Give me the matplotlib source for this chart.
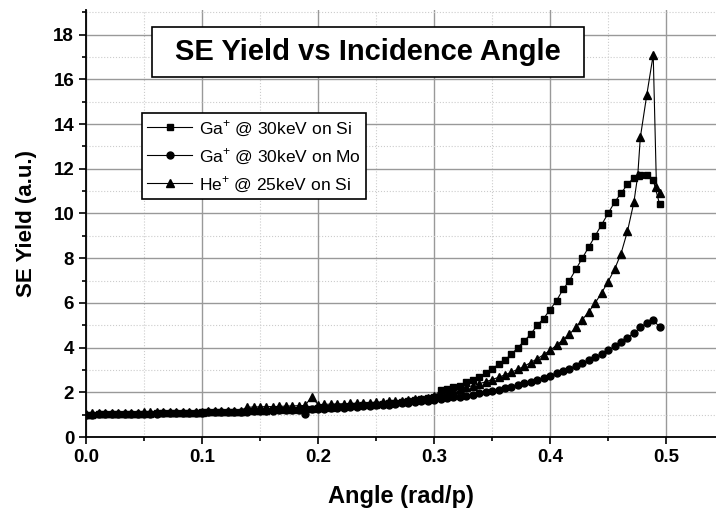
import numpy as np
import matplotlib
matplotlib.use('Agg')
import matplotlib.pyplot as plt
from matplotlib.patches import Rectangle
from matplotlib.ticker import MultipleLocator

plt.rcParams['font.family'] = ['Liberation Sans', 'DejaVu Sans']
plt.rcParams['mathtext.fontset'] = 'custom'
plt.rcParams['mathtext.rm'] = 'Liberation Sans'

# incidence angle in degrees, plotted as rad/pi
angle_deg = [0, 1, 2, 3, 4, 5, 6, 7, 8, 9,
             10, 11, 12, 13, 14, 15, 16, 17, 18, 19,
             20, 21, 22, 23, 24, 25, 26, 27, 28, 29,
             30, 31, 32, 33, 34, 35, 36, 37, 38, 39,
             40, 41, 42, 43, 44, 45, 46, 47, 48, 49,
             50, 51, 52, 53, 54, 55, 56, 57, 58, 59,
             60, 61, 62, 63, 64, 65, 66, 67, 68, 69,
             70, 71, 72, 73, 74, 75, 76, 77, 78, 79,
             80, 81, 82, 83, 84, 85, 86, 87, 88, 89]

ga_si = [1.00, 1.00, 1.01, 1.01, 1.02, 1.02, 1.03, 1.03, 1.04, 1.05,
         1.05, 1.06, 1.06, 1.07, 1.07, 1.08, 1.08, 1.09, 1.10, 1.10,
         1.11, 1.12, 1.12, 1.13, 1.14, 1.15, 1.16, 1.17, 1.18, 1.19,
         1.20, 1.21, 1.22, 1.23, 1.25, 1.26, 1.28, 1.29, 1.31, 1.33,
         1.35, 1.37, 1.39, 1.41, 1.43, 1.45, 1.48, 1.51, 1.54, 1.57,
         1.60, 1.64, 1.68, 1.73, 1.80, 2.10, 2.15, 2.25, 2.30, 2.45,
         2.55, 2.70, 2.85, 3.05, 3.25, 3.45, 3.70, 4.00, 4.30, 4.60,
         5.00, 5.30, 5.70, 6.10, 6.60, 7.00, 7.50, 8.00, 8.50, 9.00,
         9.50, 10.00, 10.50, 10.90, 11.30, 11.60, 11.70, 11.70, 11.50, 10.40]

ga_mo = [1.00, 1.00, 1.01, 1.01, 1.02, 1.02, 1.03, 1.03, 1.04, 1.04,
         1.05, 1.05, 1.06, 1.06, 1.07, 1.07, 1.08, 1.09, 1.09, 1.10,
         1.10, 1.11, 1.12, 1.12, 1.13, 1.14, 1.15, 1.16, 1.17, 1.18,
         1.19, 1.20, 1.21, 1.22, 1.05, 1.24, 1.25, 1.27, 1.28, 1.30,
         1.31, 1.33, 1.35, 1.37, 1.39, 1.41, 1.43, 1.45, 1.48, 1.50,
         1.53, 1.56, 1.59, 1.62, 1.66, 1.69, 1.73, 1.77, 1.81, 1.85,
         1.90, 1.95, 2.00, 2.06, 2.12, 2.18, 2.25, 2.32, 2.40, 2.48,
         2.56, 2.65, 2.75, 2.85, 2.95, 3.06, 3.18, 3.30, 3.43, 3.57,
         3.72, 3.88, 4.05, 4.25, 4.45, 4.65, 4.90, 5.10, 5.25, 4.90]

# He series has two extra half-degree points near grazing incidence
he_deg = [0, 1, 2, 3, 4, 5, 6, 7, 8, 9,
          10, 11, 12, 13, 14, 15, 16, 17, 18, 19,
          20, 21, 22, 23, 24, 25, 26, 27, 28, 29,
          30, 31, 32, 33, 34, 35, 36, 37, 38, 39,
          40, 41, 42, 43, 44, 45, 46, 47, 48, 49,
          50, 51, 52, 53, 54, 55, 56, 57, 58, 59,
          60, 61, 62, 63, 64, 65, 66, 67, 68, 69,
          70, 71, 72, 73, 74, 75, 76, 77, 78, 79,
          80, 81, 82, 83, 84, 85, 85.6, 86, 87, 88, 88.5, 89]

he_si = [1.05, 1.06, 1.06, 1.07, 1.07, 1.08, 1.08, 1.09, 1.09, 1.10,
         1.10, 1.11, 1.11, 1.12, 1.12, 1.13, 1.13, 1.14, 1.14, 1.15,
         1.15, 1.16, 1.16, 1.17, 1.18, 1.33, 1.34, 1.35, 1.36, 1.36,
         1.37, 1.38, 1.39, 1.40, 1.41, 1.80, 1.45, 1.46, 1.47, 1.48,
         1.49, 1.50, 1.51, 1.52, 1.54, 1.55, 1.57, 1.59, 1.61, 1.63,
         1.66, 1.69, 1.72, 1.76, 1.82, 1.95, 2.00, 2.08, 2.15, 2.22,
         2.30, 2.38, 2.47, 2.57, 2.67, 2.78, 2.90, 3.03, 3.17, 3.33,
         3.50, 3.68, 3.88, 4.10, 4.35, 4.60, 4.90, 5.25, 5.60, 6.00,
         6.45, 6.95, 7.50, 8.20, 9.20, 10.50, 11.70, 13.40, 15.30, 17.10, 11.20, 10.90]

x = np.array(angle_deg) / 180.0
x_he = np.array(he_deg) / 180.0

fig = plt.figure(figsize=(7.16, 5.12), dpi=100)
ax = fig.add_axes([86 / 716, 75 / 512, 630 / 716, 427 / 512])

ax.plot(x, ga_si, color='k', lw=0.8, marker='s', ms=5, label=r'Ga$^{+}$ @ 30keV on Si')
ax.plot(x, ga_mo, color='k', lw=0.8, marker='o', ms=5, label=r'Ga$^{+}$ @ 30keV on Mo')
ax.plot(x_he, he_si, color='k', lw=0.8, marker='^', ms=5.5, label=r'He$^{+}$ @ 25keV on Si')

ax.set_xlim(0, 0.543)
ax.set_ylim(0, 19.1)
ax.xaxis.set_major_locator(MultipleLocator(0.1))
ax.xaxis.set_minor_locator(MultipleLocator(0.05))
ax.yaxis.set_major_locator(MultipleLocator(2))
ax.yaxis.set_minor_locator(MultipleLocator(1))
ax.xaxis.set_major_formatter(plt.FuncFormatter(lambda v, p: '{:.1f}'.format(v)))

ax.grid(which='major', color='#999999', lw=1.0, ls='-')
ax.grid(which='minor', color='#cccccc', lw=0.8, ls=':')
ax.set_axisbelow(True)

for side in ['top', 'right']:
    ax.spines[side].set_visible(False)
for side in ['left', 'bottom']:
    ax.spines[side].set_linewidth(1.3)

ax.tick_params(which='major', direction='out', length=5, width=1.2, labelsize=13.5)
ax.tick_params(which='minor', direction='out', length=3, width=1.2)
for lab in ax.get_xticklabels() + ax.get_yticklabels():
    lab.set_fontweight('bold')

ax.set_xlabel('Angle (rad/p)', fontsize=17, fontweight='bold', labelpad=14)
ax.set_ylabel('SE Yield (a.u.)', fontsize=16, fontweight='bold', labelpad=12)

leg = ax.legend(loc='upper left', bbox_to_anchor=(142 / 716, 1 - 113 / 512),
                bbox_transform=fig.transFigure, borderaxespad=0, fontsize=12.5,
                fancybox=False, framealpha=1, edgecolor='k', handlelength=2.6,
                labelspacing=0.45, borderpad=0.3, handletextpad=0.4)
leg.get_frame().set_linewidth(1.2)

# title box
fig.patches.append(Rectangle((152 / 716, 1 - 77 / 512), 432 / 716, 50 / 512,
                             transform=fig.transFigure, facecolor='white',
                             edgecolor='k', lw=1.2, zorder=5))
fig.text(368 / 716, 1 - 52 / 512, 'SE Yield vs Incidence Angle', fontsize=21,
         fontweight='bold', ha='center', va='center', zorder=6)

fig.savefig('out.png', dpi=100)
